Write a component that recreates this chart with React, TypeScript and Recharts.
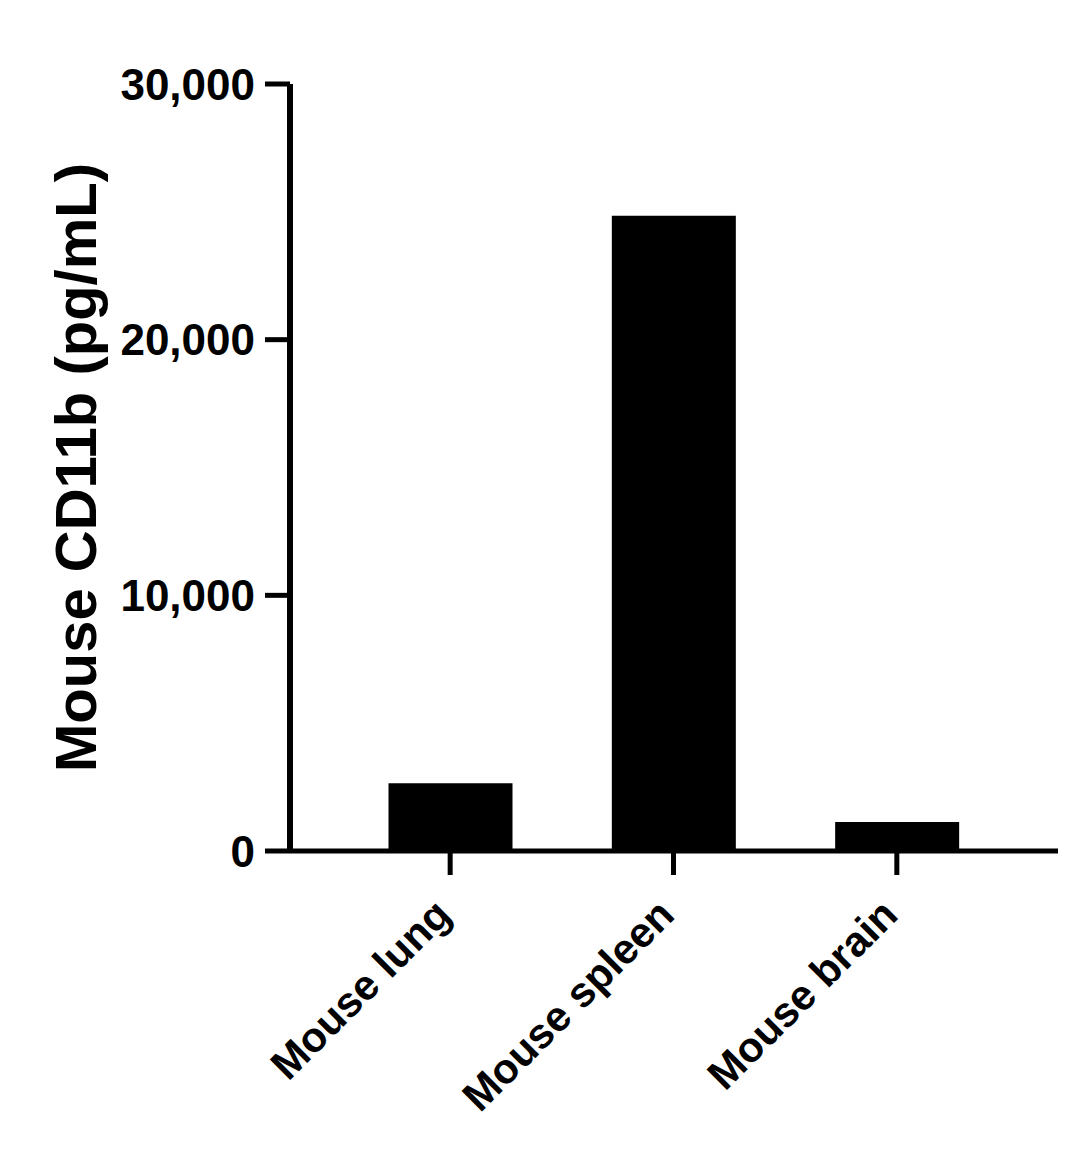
import React from 'react';
import { BarChart, Bar, XAxis, YAxis, Label } from 'recharts';

const categories = ['Mouse lung', 'Mouse spleen', 'Mouse brain'];
const values = [2650, 24850, 1130];
const yTicks = [0, 10000, 20000, 30000];
const yTitle = 'Mouse CD11b (pg/mL)';

const data = categories.map((name, i) => ({ name, value: values[i] }));

const FONT = '"Liberation Sans", Arial, Helvetica, sans-serif';

function XTick(props: any) {
  const { x, y, payload } = props;
  return (
    <g transform={`translate(${x + 3},${y + 40})`}>
      <text
        x={0}
        y={0}
        textAnchor="end"
        transform="rotate(-45)"
        fontFamily={FONT}
        fontWeight="bold"
        fontSize={42}
        fill="#000"
      >
        {payload.value}
      </text>
    </g>
  );
}

function YLabel(props: any) {
  const vb = props.viewBox || { x: 0, y: 0, width: 0, height: 0 };
  const cy = vb.y + vb.height / 2;
  const x = 88;
  return (
    <text
      x={x}
      y={cy}
      transform={`rotate(-90, ${x}, ${cy})`}
      textAnchor="middle"
      fontFamily={FONT}
      fontWeight="bold"
      fontSize={58}
      fill="#000"
    >
      {yTitle}
    </text>
  );
}

export default function App() {
  return (
    <div style={{ width: 1071, height: 1139, background: '#fff' }}>
      <BarChart
        width={1071}
        height={1139}
        data={data}
        margin={{ top: 76, right: 21, bottom: 196, left: 0 }}
      >
        <XAxis
          dataKey="name"
          height={100}
          padding={{ left: 48.5, right: 49.5 }}
          axisLine={{ stroke: '#000', strokeWidth: 5 }}
          tickLine={{ stroke: '#000', strokeWidth: 5 }}
          tickSize={24}
          tick={<XTick />}
          interval={0}
        />
        <YAxis
          width={282}
          domain={[0, 30000]}
          ticks={yTicks}
          interval={0}
          allowDataOverflow
          axisLine={{ stroke: '#000', strokeWidth: 6 }}
          tickLine={{ stroke: '#000', strokeWidth: 5 }}
          tickSize={25}
          tickMargin={10}
          tick={{ fill: '#000', fontSize: 44, fontWeight: 'bold', fontFamily: FONT }}
          tickFormatter={(v: number) => v.toLocaleString('en-US')}
        >
          <Label content={YLabel} />
        </YAxis>
        <Bar dataKey="value" fill="#000" barSize={124} isAnimationActive={false} />
      </BarChart>
    </div>
  );
}
